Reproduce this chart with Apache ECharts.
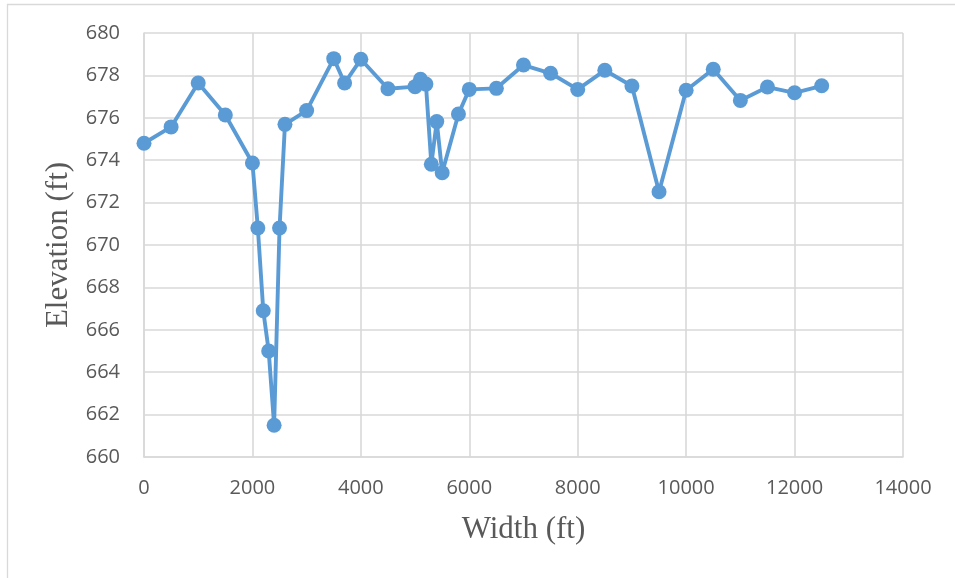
<!DOCTYPE html>
<html>
<head>
<meta charset="utf-8">
<script src="https://cdn.jsdelivr.net/npm/echarts@6/dist/echarts.min.js"></script>
<style>
  html, body { margin: 0; padding: 0; background: #fff; }
  #chart { width: 955px; height: 578px; }
</style>
</head>
<body>
<div id="chart"></div>
<script>
// Cross-section survey: horizontal station (ft) and ground elevation (ft)
const widthFt = [
  0, 500, 1000, 1500, 2000, 2100, 2200, 2300, 2400, 2500,
  2600, 3000, 3500, 3700, 4000, 4500, 5000, 5100, 5200, 5300,
  5400, 5500, 5800, 6000, 6500, 7000, 7500, 8000, 8500, 9000,
  9500, 10000, 10500, 11000, 11500, 12000, 12500
];
const elevationFt = [
  674.8, 675.57, 677.64, 676.13, 673.87, 670.8, 666.9, 665.0, 661.5, 670.8,
  675.69, 676.34, 678.79, 677.64, 678.76, 677.37, 677.47, 677.82, 677.59, 673.81,
  675.82, 673.41, 676.18, 677.34, 677.39, 678.49, 678.1, 677.34, 678.24, 677.5,
  672.51, 677.3, 678.29, 676.82, 677.45, 677.18, 677.51
];
const xTicks = { min: 0, max: 14000, interval: 2000 };
const yTicks = { min: 660, max: 680, interval: 2 };

const points = widthFt.map((w, i) => [w, elevationFt[i]]);

const gridColor = '#d9d9d9';
const labelColor = '#595959';
const labelFont = '"Open Sans", "Liberation Sans", sans-serif';
const titleFont = '"Liberation Serif", "DejaVu Serif", serif';

const chart = echarts.init(document.getElementById('chart'), null, { renderer: 'canvas' });
chart.setOption({
  animation: false,
  backgroundColor: '#ffffff',
  graphic: [{
    type: 'rect',
    shape: { x: 7.5, y: 4.5, width: 1000, height: 1000 },
    style: { fill: 'none', stroke: gridColor, lineWidth: 1.3 },
    silent: true
  }],
  grid: { left: 144, top: 33, width: 759, height: 424, containLabel: false },
  xAxis: {
    type: 'value',
    min: xTicks.min, max: xTicks.max, interval: xTicks.interval,
    name: 'Width (ft)',
    nameLocation: 'middle',
    nameGap: 57,
    nameTextStyle: { fontFamily: titleFont, fontSize: 31, color: labelColor },
    axisLine: { show: true, lineStyle: { color: gridColor, width: 1.6 } },
    axisTick: { show: false },
    axisLabel: {
      margin: 21, fontFamily: labelFont, fontSize: 20, color: labelColor,
      formatter: (v) => String(v)
    },
    splitLine: { show: true, lineStyle: { color: gridColor, width: 1.6 } }
  },
  yAxis: {
    type: 'value',
    min: yTicks.min, max: yTicks.max, interval: yTicks.interval,
    name: 'Elevation (ft)',
    nameLocation: 'middle',
    nameGap: 69,
    nameRotate: 90,
    nameTextStyle: { fontFamily: titleFont, fontSize: 31, color: labelColor },
    axisLine: { show: true, lineStyle: { color: gridColor, width: 1.6 } },
    axisTick: { show: false },
    axisLabel: {
      margin: 24, fontFamily: labelFont, fontSize: 20, color: labelColor,
      formatter: (v) => String(v)
    },
    splitLine: { show: true, lineStyle: { color: gridColor, width: 1.6 } }
  },
  series: [{
    type: 'line',
    data: points,
    symbol: 'circle',
    symbolSize: 15,
    showAllSymbol: true,
    lineStyle: { color: '#5b9bd5', width: 3.9 },
    itemStyle: { color: '#5b9bd5', borderWidth: 0 },
    z: 3
  }]
});
</script>
</body>
</html>
